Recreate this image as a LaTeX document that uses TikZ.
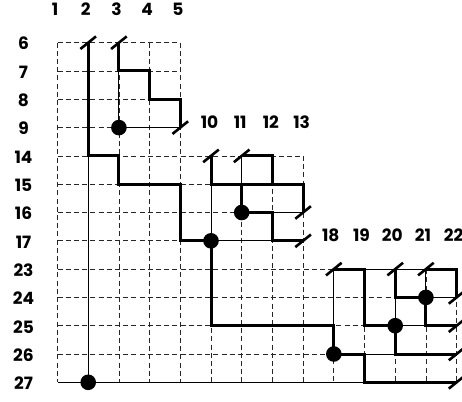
\documentclass[tikz,border=0pt]{standalone}
\usepackage{fontspec}
\setmainfont{Poppins}
\begin{document}
\begin{tikzpicture}[x=30.7pt,y=-28.3pt,
  gridd/.style={dash pattern=on 5pt off 3.2pt, line width=0.8pt, black!85},
  thinline/.style={line width=0.9pt, black},
  thickline/.style={line width=3pt, black, line join=miter},
  tickmark/.style={line width=2.6pt, black},
  dot/.style={circle, fill=black, draw=none, inner sep=0pt, minimum size=15.6pt},
  lab/.style={font=\fontsize{17}{17}\selectfont\bfseries, inner sep=0pt, anchor=center}]
\useasboundingbox (-57.5pt,42.7pt) rectangle (404.5pt,-358.3pt);
% dashed grid
\foreach \j in {0,...,3} \draw[gridd] (0,\j) -- (4,\j);
\foreach \j in {4,...,7} \draw[gridd] (0,\j) -- (8,\j);
\foreach \j in {8,...,11} \draw[gridd] (0,\j) -- (13,\j);
\foreach \i in {0,...,4} \draw[gridd] (\i,0) -- (\i,12);
\foreach \i in {5,...,8} \draw[gridd] (\i,4) -- (\i,12);
\foreach \i in {9,...,13} \draw[gridd] (\i,8) -- (\i,12);
% thin lines
\draw[thinline] (2,1) -- (2,3) -- (4,3);
\draw[thinline] (1,4) -- (1,12);
\draw[thinline] (0,12) -- (10,12);
\draw[thinline] (6,4) -- (6,5);
\draw[thinline] (5,5) -- (5,7) -- (7,7);
\draw[thinline] (7,6) -- (8,6);
\draw[thinline] (9,8) -- (9,10);
\draw[thinline] (10,8) -- (12,8);
\draw[thinline] (12,8) -- (12,9) -- (13,9);
\draw[thinline] (11,9) -- (11,10) -- (12,10);
\draw[thinline] (10,11) -- (11,11);
% thick paths
\draw[thickline] (1,0) -- (1,4) -- (2,4) -- (2,5) -- (4,5) -- (4,7) -- (5,7) -- (5,10) -- (9,10) -- (9,11) -- (10,11) -- (10,12) -- (13,12);
\draw[thickline] (2,0) -- (2,1) -- (3,1) -- (3,2) -- (4,2) -- (4,3);
\draw[thickline] (5,4) -- (5,5) -- (8,5) -- (8,6);
\draw[thickline] (6,4) -- (7,4) -- (7,5);
\draw[thickline] (6,5) -- (6,6) -- (7,6) -- (7,7) -- (8,7);
\draw[thickline] (9,8) -- (10,8) -- (10,10) -- (11,10) -- (11,11) -- (13,11);
\draw[thickline] (11,8) -- (11,9) -- (12,9) -- (12,10) -- (13,10);
\draw[thickline] (12,8) -- (13,8) -- (13,9);
% tick marks
\foreach \a/\b in {1/0,2/0,4/3,5/4,6/4,8/6,8/7,9/8,11/8,12/8,13/9,13/10,13/11,13/12}
  \draw[tickmark] ([xshift=-7.8pt,yshift=-6.3pt]\a,\b) -- ([xshift=7.8pt,yshift=6.3pt]\a,\b);
% dots
\node[dot] (d1) at (2,3) {};
\node[dot] (d2) at (1,12) {};
\node[dot] (d3) at (6,6) {};
\node[dot] (d4) at (5,7) {};
\node[dot] (d5) at (9,11) {};
\node[dot] (d6) at (11,10) {};
\node[dot] (d7) at (12,9) {};
% column labels
\foreach \i/\t in {0/1,1/2,2/3,3/4,4/5}
  \node[lab] (c\t) at ([xshift=-2.5pt,yshift=5.5pt]\i,-1) {\t};
\foreach \i/\t in {5/10,6/11,7/12,8/13}
  \node[lab] (c\t) at ([xshift=-1.5pt,yshift=5.5pt]\i,3) {\t};
\foreach \i/\t in {9/18,10/19,11/20,12/21,13/22}
  \node[lab] (c\t) at ([xshift=-3pt,yshift=5.5pt]\i,7) {\t};
% row labels
\foreach \j/\t in {0/6,1/7,2/8,3/9,4/14,5/15,6/16,7/17,8/23,9/24,10/25,11/26,12/27}
  \node[lab] (r\t) at ([xshift=-34pt,yshift=-1pt]0,\j) {\t};
\end{tikzpicture}
\end{document}
